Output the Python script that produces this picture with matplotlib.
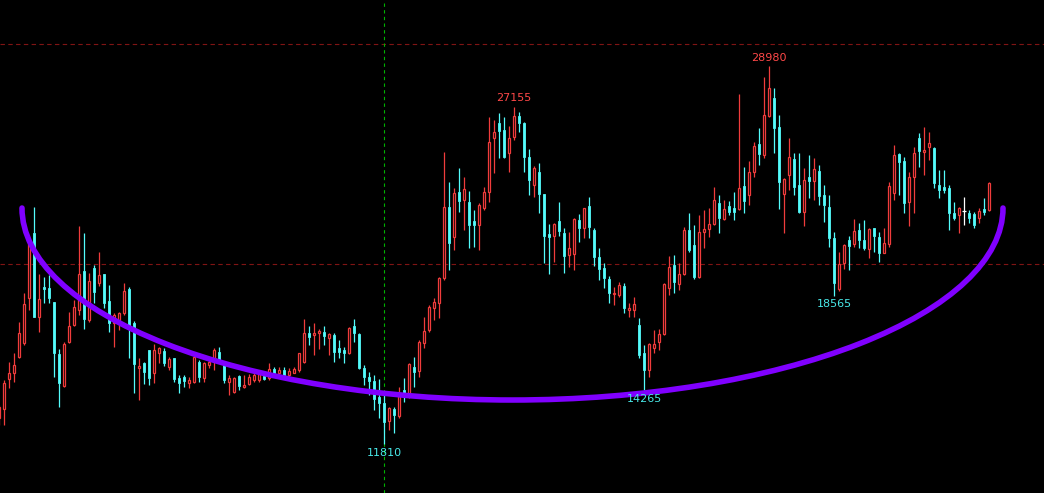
import matplotlib
matplotlib.use("Agg")
import matplotlib.pyplot as plt
from matplotlib.patches import Rectangle, Arc
import numpy as np

opens = [13000,13410,14770,15045,15775,16410,18455,21410,17590,18955,18910,18275,15910,14455,16455,17230,17910,19680,17455,19820,
         19135,19545,18320,17320,17455,17775,18865,17320,15275,15500,16090,15045,15955,16045,15320,15725,14820,14865,14590,14635,
         15545,14820,15410,15635,16000,15410,14635,14180,14910,14410,14545,14725,14725,14910,14820,15230,15045,15180,14955,15045,
         15180,15545,16865,16775,16865,16910,16635,16775,16180,16090,15955,17180,16820,15275,14865,14680,13955,13680,12865,13410,
         13090,14275,14090,15320,15135,16410,17000,18000,18230,19365,22590,21225,23275,22910,22820,21955,21775,22545,23275,25725,
         26410,26090,25045,25775,26725,26410,24865,23590,24180,23180,21365,21275,21955,21410,20410,20455,22000,21635,22635,21545,
         20320,19820,19320,18635,18590,19000,17910,17910,17230,15955,15180,16180,16455,16820,18910,19955,19090,19545,21545,20865,
         19410,21455,21590,21820,22775,22045,22635,22545,22500,23545,23135,24180,25455,24955,26725,27545,26225,23180,24045,24775,
         23590,22365,23955,23775,24225,23135,22590,21180,18865,20045,21090,20910,21545,21090,20680,21635,21225,20500,20910,23225,
         25000,24680,22820,23955,25725,25090,25320,25275,23590,23500,23455,22320,22225,22390,22320,22275,22090,22500,22455]
highs = [13590,14725,15545,15955,17365,18680,21000,22590,19545,19410,19500,18275,16135,16455,17820,18365,21725,21410,19590,19955,
         20545,19545,19045,17775,17820,19135,18955,17410,15725,15545,16090,16365,16225,16180,15775,15725,14955,14955,14865,15775,
         15635,15545,15635,16180,16225,15500,14955,14865,14955,14955,15000,15090,15090,14955,15500,15320,15320,15320,15275,15320,
         15955,17500,17180,17320,17045,17180,16865,16865,16545,16225,17135,17500,16865,15410,15090,14955,14775,14135,13500,13500,
         14410,14820,15500,15775,16545,17590,18135,18455,19410,25090,23725,23455,24365,23955,23320,22455,22775,23500,26680,26545,
         26865,26680,26275,27155,26910,26455,25225,24455,24590,23180,21820,21865,22820,21635,21455,22090,22275,22545,23045,21635,
         20725,20045,19455,18955,19180,19135,18230,18500,17545,16320,16410,17000,17045,19135,20365,20410,20045,21680,22320,21775,
         22225,22455,22545,23500,23135,22910,22865,23275,27725,24410,24680,25545,26180,28500,28980,28000,26775,23910,25725,25045,
         25045,24365,24955,24820,24500,23590,23135,21455,20545,20910,21275,22045,21865,22000,21635,21635,21455,21635,23725,25410,
         25045,24865,24180,25320,25955,26225,26000,25320,24275,24275,23590,22820,22590,23045,22455,22365,22545,23000,23725]
lows = [12680,12680,14365,14635,15725,16320,17910,17590,16910,18230,18230,14865,13500,14410,16410,17180,17680,17045,17365,18230,
        19000,18000,16910,16225,17000,17680,15725,14135,13820,14545,14500,14590,15500,15365,15180,14635,14135,14410,14365,14590,
        14635,14635,15275,15180,15545,14590,14045,14135,14275,14365,14500,14635,14635,14725,14725,14955,15000,14820,14865,15045,
        15090,15500,16320,15865,16135,16320,15865,15545,15725,15500,15910,16455,15230,14500,14045,13365,13000,11810,12455,12320,
        13000,13725,13910,14410,14865,16180,16910,17455,17545,19275,19725,20635,22365,21545,20725,20775,20635,22455,22820,24135,
        24820,24820,24180,25635,26000,24180,23135,23045,22320,20045,19545,20090,21275,19590,19865,19725,21000,21180,21180,19910,
        19275,18910,18230,18135,18500,17775,17590,17590,15725,14265,14865,15955,16090,16775,18590,18680,18820,19500,20545,19320,
        19365,20725,21225,21775,21410,22000,22225,22000,22455,22320,22680,23955,24500,24820,26680,25045,22500,21410,23365,23135,
        22320,21725,23000,22910,22680,21910,20775,18565,18775,19775,19725,20775,20725,20635,20275,20545,20090,20500,20775,22910,
        23135,22320,21725,22320,24410,24045,24725,23455,23000,23225,21545,22000,21410,21775,21865,21635,21865,22225,22410]
closes = [13500,14590,15045,15410,16865,18180,20955,17590,18410,18865,18455,15955,14590,16365,17180,18045,19545,17500,19230,18725,
          19500,18230,17320,17680,17775,18775,17135,15455,15365,15090,14820,16090,16180,15500,15680,14775,14590,14680,14725,15775,
          14865,15500,15545,16090,15635,14725,14820,14820,14455,14500,14865,14955,15000,14775,15230,15045,15180,14955,15135,15230,
          15955,16865,16680,16865,16955,16725,16820,16000,16000,15955,17090,16865,15275,14865,14680,13865,13680,12820,13455,13135,
          14000,14135,15455,15090,16455,16955,18045,18275,19365,22590,20955,23225,22865,23410,21775,21775,22680,23275,25545,26000,
          26045,24865,25725,26725,26410,24865,23820,24365,23180,21275,21225,21820,21500,20365,20725,22045,21635,22545,21680,20320,
          19775,19365,18680,18680,19045,18000,18000,18180,15865,15180,16365,16365,16820,19090,19865,19180,19545,21545,20635,19410,
          21455,21590,21820,22910,22090,22500,22365,22365,23455,22865,24180,25365,25000,26775,28000,26180,23725,23865,24865,23500,
          22365,23820,23775,24320,23090,22680,21180,19135,20000,20865,20820,21500,21090,20725,21590,21275,20500,20955,23545,24955,
          24635,22775,23955,25045,25135,25180,25500,23680,23365,23365,22320,22090,22545,22390,22090,21775,22410,22365,23680]

ref_levels = [20000, 30000]
marked_index = 77
peak_labels = [(103, 27155), (154, 28980)]
trough_labels = [(77, 11810), (129, 14265), (167, 18565)]

UP = "#f03c3c"
DOWN = "#54fcfc"
FLAT = "#ffffff"
BG = "#000000"

fig = plt.figure(figsize=(10.44, 4.93), dpi=100, facecolor=BG)
ax = fig.add_axes([0, 0, 1, 1], facecolor=BG)
ax.set_xlim(0.2, 209.0)
ax.set_ylim(9591, 32000)
ax.axis("off")

for lv in ref_levels:
    ax.axhline(lv, color="#801414", lw=0.8, ls=(0, (4, 3)), zorder=1)
ax.axvline(marked_index, color="#00b400", lw=0.8, ls=(0, (3, 3)), zorder=1)

bw = 0.56
for i, (o, h, l, c) in enumerate(zip(opens, highs, lows, closes)):
    if c > o:
        col = UP
    elif c < o:
        col = DOWN
    else:
        col = FLAT
    top, bot = max(o, c), min(o, c)
    ax.vlines(i, bot, l, color=col, lw=0.9, zorder=2)
    ax.vlines(i, top, h, color=col, lw=0.9, zorder=2)
    if col == UP:
        ax.add_patch(Rectangle((i - bw / 2, bot), bw, top - bot, facecolor=BG,
                               edgecolor=col, lw=0.9, zorder=3))
    elif col == DOWN:
        ax.add_patch(Rectangle((i - bw / 2, bot), bw, max(top - bot, 20), facecolor=col,
                               edgecolor=col, lw=0.6, zorder=3))
    else:
        ax.hlines(o, i - bw / 2 - 0.1, i + bw / 2 + 0.1, color=col, lw=0.9, zorder=3)

# rounded-bottom arc annotation
arc_center = (102.7, 22545)
arc_w, arc_h = 196.2, 17455
ax.add_patch(Arc(arc_center, arc_w, arc_h, theta1=180, theta2=360,
                 color="#8000ff", lw=4.0, capstyle="round", zorder=5))

for idx, val in peak_labels:
    ax.annotate(str(val), (idx, val), xytext=(0, 2.5), textcoords="offset points",
                ha="center", va="bottom", color="#ff4848", fontsize=8, zorder=6)
for idx, val in trough_labels:
    ax.annotate(str(val), (idx, val), xytext=(0, -2.5), textcoords="offset points",
                ha="center", va="top", color="#48e8e8", fontsize=8, zorder=6)

fig.savefig("out.png", dpi=100, facecolor=BG)
